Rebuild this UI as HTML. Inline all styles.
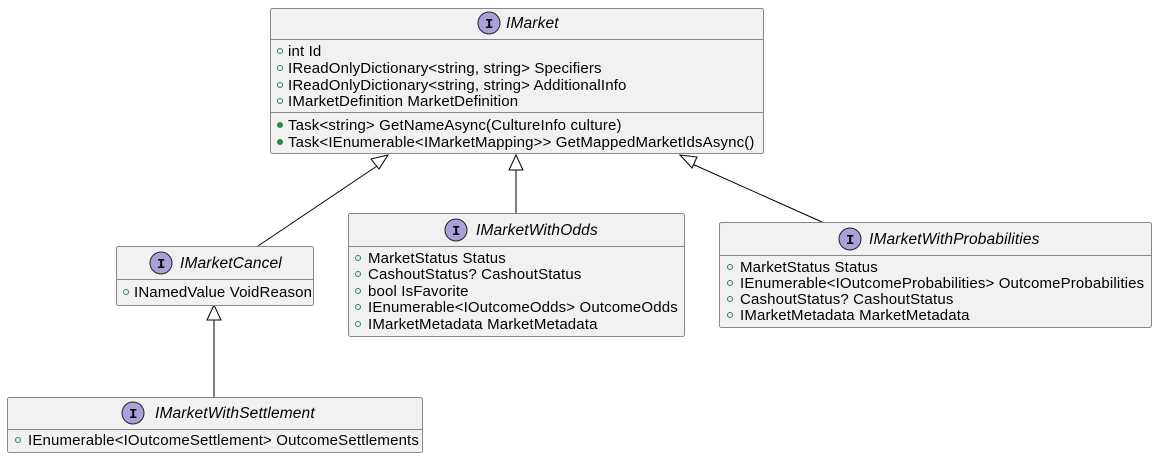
<!DOCTYPE html>
<html><head><meta charset="utf-8"><style>
body{margin:0;background:#fff}
text{font-family:"Liberation Sans",sans-serif;font-size:15px;letter-spacing:0.15px;fill:#000}
.t{font-style:italic;font-size:15.5px}
.b{fill:#f1f1f1;stroke:#888;stroke-width:1}
.l{stroke:#888;stroke-width:1}
.c{fill:#a9a1d9;stroke:#222;stroke-width:1}
.ci{font-weight:bold;font-size:14px;font-family:"Liberation Mono",monospace}
.o{fill:none;stroke:#2a8a4a;stroke-width:1}
.f{fill:#2a8a4a;stroke:#2a8a4a}
</style></head><body>
<svg width="1156" height="458" xmlns="http://www.w3.org/2000/svg">
<g stroke="#000" stroke-width="1" fill="none">
<line x1="258" y1="246" x2="380" y2="164"/>
<polygon points="388,155 371,159 379,169" fill="#fff"/>
<line x1="516" y1="213" x2="516" y2="170"/>
<polygon points="516,155 509,170 523,170" fill="#fff"/>
<line x1="822" y1="222" x2="690" y2="163"/>
<polygon points="680,155 692,168 697,157" fill="#fff"/>
<line x1="214" y1="397" x2="214" y2="320"/>
<polygon points="214,305 207,320 221,320" fill="#fff"/>
</g>
<!-- IMarket -->
<rect class="b" x="270.5" y="8.5" width="493" height="145" rx="2"/>
<line class="l" x1="270" y1="39.5" x2="763" y2="39.5"/>
<line class="l" x1="270" y1="112.5" x2="763" y2="112.5"/>
<circle class="c" cx="489" cy="23" r="11"/><text class="ci" x="485" y="28">I</text>
<text class="t" x="506" y="28">IMarket</text>
<g><circle class="o" cx="280" cy="51" r="2.5"/><text x="288" y="56">int Id</text>
<circle class="o" cx="280" cy="68" r="2.5"/><text x="288" y="73">IReadOnlyDictionary&lt;string, string&gt; Specifiers</text>
<circle class="o" cx="280" cy="85" r="2.5"/><text x="288" y="90">IReadOnlyDictionary&lt;string, string&gt; AdditionalInfo</text>
<circle class="o" cx="280" cy="101" r="2.5"/><text x="288" y="106">IMarketDefinition MarketDefinition</text>
<circle class="f" cx="280" cy="125" r="2.5"/><text x="288" y="130">Task&lt;string&gt; GetNameAsync(CultureInfo culture)</text>
<circle class="f" cx="280" cy="142" r="2.5"/><text x="288" y="147">Task&lt;IEnumerable&lt;IMarketMapping&gt;&gt; GetMappedMarketIdsAsync()</text></g>
<!-- IMarketCancel -->
<rect class="b" x="116.5" y="246.5" width="197" height="59" rx="2"/>
<line class="l" x1="116" y1="279.5" x2="313" y2="279.5"/>
<circle class="c" cx="161" cy="263" r="11"/><text class="ci" x="157" y="268">I</text>
<text class="t" x="180" y="268">IMarketCancel</text>
<circle class="o" cx="126" cy="292" r="2.5"/><text x="134" y="297">INamedValue VoidReason</text>
<!-- IMarketWithOdds -->
<rect class="b" x="348.5" y="213.5" width="336" height="123" rx="2"/>
<line class="l" x1="348" y1="246.5" x2="684" y2="246.5"/>
<circle class="c" cx="456" cy="230" r="11"/><text class="ci" x="452" y="235">I</text>
<text class="t" x="476" y="235">IMarketWithOdds</text>
<circle class="o" cx="358" cy="258" r="2.5"/><text x="368" y="263">MarketStatus Status</text>
<circle class="o" cx="358" cy="274" r="2.5"/><text x="368" y="279">CashoutStatus? CashoutStatus</text>
<circle class="o" cx="358" cy="291" r="2.5"/><text x="368" y="296">bool IsFavorite</text>
<circle class="o" cx="358" cy="307" r="2.5"/><text x="368" y="312">IEnumerable&lt;IOutcomeOdds&gt; OutcomeOdds</text>
<circle class="o" cx="358" cy="324" r="2.5"/><text x="368" y="329">IMarketMetadata MarketMetadata</text>
<!-- IMarketWithProbabilities -->
<rect class="b" x="719.5" y="222.5" width="432" height="105" rx="2"/>
<line class="l" x1="719" y1="255.5" x2="1151" y2="255.5"/>
<circle class="c" cx="850" cy="239" r="11"/><text class="ci" x="846" y="244">I</text>
<text class="t" x="869" y="244">IMarketWithProbabilities</text>
<circle class="o" cx="730" cy="267" r="2.5"/><text x="740" y="272">MarketStatus Status</text>
<circle class="o" cx="730" cy="283" r="2.5"/><text x="740" y="288">IEnumerable&lt;IOutcomeProbabilities&gt; OutcomeProbabilities</text>
<circle class="o" cx="730" cy="299" r="2.5"/><text x="740" y="304">CashoutStatus? CashoutStatus</text>
<circle class="o" cx="730" cy="315" r="2.5"/><text x="740" y="320">IMarketMetadata MarketMetadata</text>
<!-- IMarketWithSettlement -->
<rect class="b" x="7.5" y="397.5" width="415" height="55" rx="2"/>
<line class="l" x1="7" y1="429.5" x2="422" y2="429.5"/>
<circle class="c" cx="133" cy="413" r="11"/><text class="ci" x="129" y="418">I</text>
<text class="t" x="155" y="418">IMarketWithSettlement</text>
<circle class="o" cx="18" cy="440" r="2.5"/><text x="28" y="445">IEnumerable&lt;IOutcomeSettlement&gt; OutcomeSettlements</text>
</svg>
</body></html>
